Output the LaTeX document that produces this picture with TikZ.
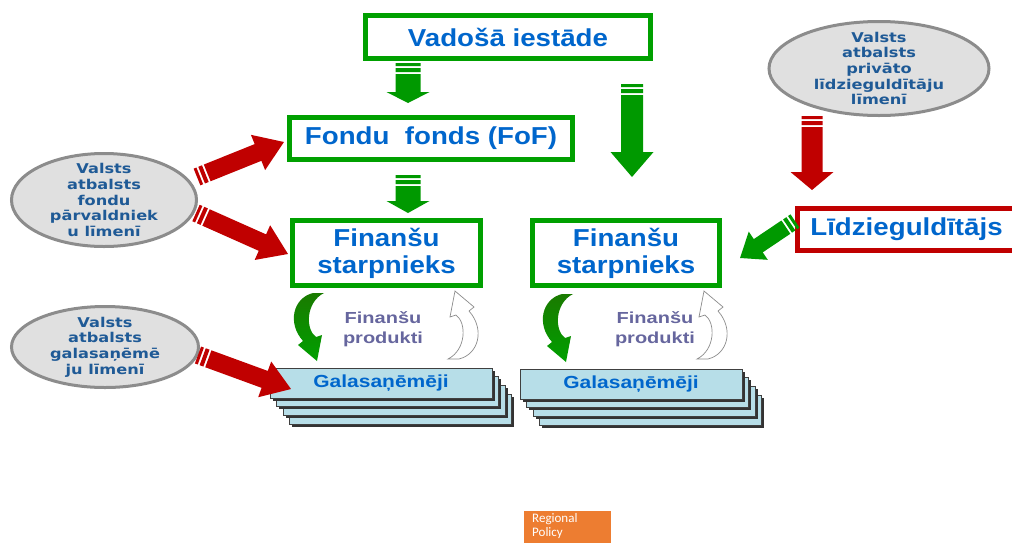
\documentclass[tikz,border=0pt]{standalone}
\usepackage{fontspec}
\setmainfont{Liberation Sans}
\newfontfamily\bigf[FakeStretch=1.13]{Liberation Sans}
\newfontfamily\ellf[FakeStretch=1.2]{DejaVu Sans}
\newfontfamily\galf[FakeStretch=1.2]{Liberation Sans}
\newfontfamily\prodf[FakeStretch=1.25]{Liberation Sans}
\newfontfamily\regf{Carlito}
\usetikzlibrary{shapes.geometric,calc}
\definecolor{boxgreen}{HTML}{00A000}
\definecolor{arrgreen}{HTML}{009900}
\definecolor{arrred}{HTML}{C00000}
\definecolor{txtblue}{HTML}{0066CC}
\definecolor{elltxt}{HTML}{1F5A96}
\definecolor{ellfill}{HTML}{E0E0E0}
\definecolor{elldraw}{HTML}{8C8C8C}
\definecolor{galblue}{HTML}{B7DEE8}
\definecolor{prodtxt}{HTML}{66669E}
\definecolor{orangebg}{HTML}{ED7D31}
\definecolor{cgdark}{HTML}{1A7A00}
\definecolor{cgmid}{HTML}{8FD400}
\definecolor{cgend}{HTML}{00A000}
\tikzset{
  gbox/.style={draw=boxgreen, line width=5pt, fill=white, inner sep=0pt, text=txtblue,
    font=\bigf\bfseries\fontsize{24.5}{27}\selectfont, align=center},
  ellshape/.style={ellipse, draw=elldraw, line width=3pt, fill=ellfill, inner sep=0pt},
  elltext/.style={text=elltxt, font=\ellf\bfseries\fontsize{13.5}{15.6}\selectfont, align=center, inner sep=0pt},
  galbox/.style={draw=black!75, line width=0.8pt, fill=galblue, minimum width=222pt, minimum height=30pt,
    inner sep=0pt, text=txtblue, font=\galf\bfseries\fontsize{17.5}{20}\selectfont},
  galshadow/.style={fill=black!80},
  prodlabel/.style={text=prodtxt, font=\prodf\bfseries\fontsize{16}{19.5}\selectfont, align=center, inner sep=0pt},
  greencurve/.style={top color=cgdark, middle color=cgmid, bottom color=cgend},
  outlinecurve/.style={rotate=180, fill=white, draw=black!45, line width=0.7pt},
  curvarrow/.pic={
    \path[pic actions] (6,-33) .. controls (-14,-28) and (-20,-3) .. (-4,15) -- (-9,19) -- (10,35)
      -- (15,9) -- (9,11) .. controls (-2,3) and (-1,-24) .. (17,-33) -- cycle;
  },
}
% block arrow with striped tail: colour, from, to, shaft half width, head half width, head length
\newcommand\blockarrow[6]{%
  \fill[#1] let \p1=(#2), \p2=(#3), \n1={atan2(\y2-\y1,\x2-\x1)}, \n2={veclen(\x2-\x1,\y2-\y1)} in
    [shift={(\p1)}, rotate=\n1]
    (0,-#4) rectangle (3,#4)
    (5,-#4) rectangle (9,#4)
    (11,-#4) -- (\n2-#6,-#4) -- (\n2-#6,-#5) -- (\n2,0) -- (\n2-#6,#5) -- (\n2-#6,#4) -- (11,#4) -- cycle;
}
% stack of recipient cards: name, x, y of the front card's top left corner
\newcommand\galstack[3]{%
  \foreach \k in {3,2,1} {
    \fill[galshadow] (#2+\k*6.6+2.5,#3+\k*8.8+2.5) rectangle +(222,30);
    \filldraw[fill=galblue, draw=black!75, line width=0.8pt] (#2+\k*6.6,#3+\k*8.8) rectangle +(222,30);
  }
  \fill[galshadow] (#2+2.5,#3+2.5) rectangle +(222,30);
  \node[galbox] (#1) at (#2+111,#3+15) {Galasaņēmēji};
}
\begin{document}
\begin{tikzpicture}[x=1pt,y=-1pt]
\useasboundingbox (0,0) rectangle (1012,542);
\fill[white] (0,0) rectangle (1012,542);

% boxes
\node[gbox, minimum width=285pt, minimum height=43pt] (vad) at (508,37) {Vadošā iestāde};
\node[gbox, minimum width=283pt, minimum height=42pt] (fof) at (431,138.5) {Fondu\ \ fonds (FoF)};
\node[gbox, minimum width=188pt, minimum height=65pt] (fin1) at (386.5,253) {Finanšu\\starpnieks};
\node[gbox, minimum width=187pt, minimum height=65pt] (fin2) at (626,253) {Finanšu\\starpnieks};
\node[gbox, draw=arrred, minimum width=218pt, minimum height=42pt] (lid) at (906.5,229.5) {Līdzieguldītājs};

% ellipses
\node[ellshape, minimum width=185pt, minimum height=93pt] (e1) at (104,200) {};
\node[elltext] (e1t) at (e1.center) {Valsts\\atbalsts\\fondu\\pārvaldniek\\u līmenī};
\node[ellshape, minimum width=187pt, minimum height=81pt] (e2) at (105,347) {};
\node[elltext] (e2t) at (e2.center) {Valsts\\atbalsts\\galasaņēmē\\ju līmenī};
\node[ellshape, minimum width=220pt, minimum height=94pt] (e3) at (879,68.5) {};
\node[elltext] (e3t) at (e3.center) {Valsts\\atbalsts\\privāto\\līdzieguldītāju\\līmenī};

% recipient stacks
\galstack{gal1}{270}{368}
\galstack{gal2}{520}{369}

% product labels
\node[prodlabel] (p1) at (383,329) {Finanšu\\produkti};
\node[prodlabel] (p2) at (655,329) {Finanšu\\produkti};

% curved arrows
\pic[greencurve] (cg1) at (307,326) {curvarrow};
\pic[outlinecurve] (co1) at (465,326) {curvarrow};
\pic[greencurve] (cg2) at (556,327) {curvarrow};
\pic[outlinecurve] (co2) at (714,326) {curvarrow};

% arrow end points
\coordinate (a1s) at (408,63);   \coordinate (a1e) at (408,103);
\coordinate (a2s) at (632,84);   \coordinate (a2e) at (632,177);
\coordinate (a3s) at (408,175);  \coordinate (a3e) at (408,213);
\coordinate (a4s) at (197,177);  \coordinate (a4e) at (284,142);
\coordinate (a5s) at (196,213);  \coordinate (a5e) at (288,254);
\coordinate (a6s) at (198,355);  \coordinate (a6e) at (291,389);
\coordinate (a7s) at (812,116);  \coordinate (a7e) at (812,190);
\coordinate (a8s) at (795,221);  \coordinate (a8e) at (740,258);

\blockarrow{arrgreen}{a1s}{a1e}{12.5}{21.5}{11}
\blockarrow{arrgreen}{a2s}{a2e}{11}{21.5}{25}
\blockarrow{arrgreen}{a3s}{a3e}{12.5}{21.5}{12}
\blockarrow{arrred}{a4s}{a4e}{9}{19}{28}
\blockarrow{arrred}{a5s}{a5e}{9}{19}{28}
\blockarrow{arrred}{a6s}{a6e}{9}{19}{28}
\blockarrow{arrred}{a7s}{a7e}{10.5}{21.5}{18}
\blockarrow{arrgreen}{a8s}{a8e}{8}{17}{22}

% footer tag
\node[fill=orangebg, minimum width=87pt, minimum height=34pt, anchor=north west, inner sep=0pt] (rp) at (524,511) {};
\node[text=white, font=\regf\fontsize{13}{14.2}\selectfont, align=left, anchor=north west, inner sep=0pt] (rpt) at (532,513) {Regional\\Policy};
\end{tikzpicture}
\end{document}
